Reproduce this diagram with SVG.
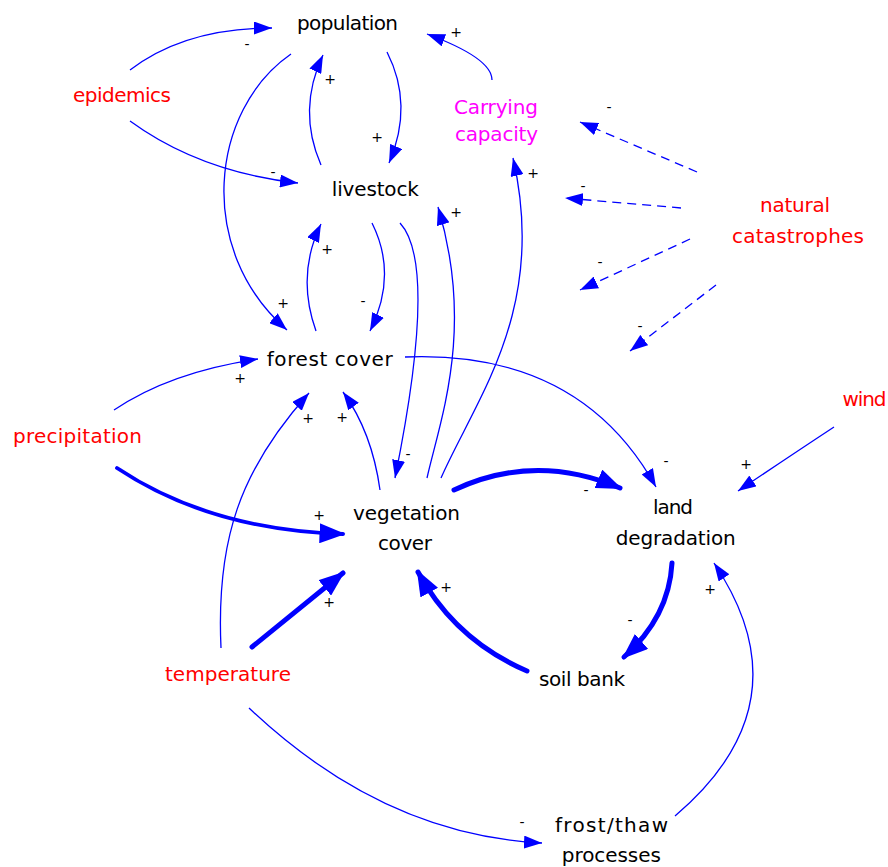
<svg xmlns="http://www.w3.org/2000/svg" width="888" height="867" viewBox="0 0 888 867">
<style>
  .lbl { font-family: "DejaVu Sans", "Liberation Sans", sans-serif; font-size: 20px; text-anchor: middle; }
  .blk { fill: #000000; }
  .red { fill: #ff0000; }
  .mag { fill: #ff00ff; }
  .sgn { font-family: "DejaVu Sans", "Liberation Sans", sans-serif; font-size: 14px; text-anchor: middle; fill: #000000; }
  .thin { fill: none; stroke: #0000ff; stroke-width: 1.3; marker-end: url(#ah); }
  .dash { fill: none; stroke: #0000ff; stroke-width: 1.3; stroke-dasharray: 9,6; marker-end: url(#ah); }
  .thick { fill: none; stroke: #0000ff; stroke-width: 5; stroke-linecap: round; marker-end: url(#ahk); }
</style>
<defs>
  <marker id="ah" markerUnits="userSpaceOnUse" markerWidth="18" markerHeight="13" refX="18" refY="6.5" orient="auto">
    <path d="M0,0 L18,6.5 L0,13 Z" fill="#0000ff"/>
  </marker>
  <marker id="ahk" markerUnits="userSpaceOnUse" markerWidth="26" markerHeight="20" refX="23.5" refY="10" orient="auto">
    <path d="M0,0 L26,10 L0,20 Z" fill="#0000ff"/>
  </marker>
</defs>
<rect width="888" height="867" fill="#ffffff"/>

<g id="connectors">
  <path class="thin" d="M130,70 Q185,28 272,28"/>
  <path class="thin" d="M130,121 Q200,172 298,183"/>
  <path class="thin" d="M291,54 C210,110 195,250 287,330"/>
  <path class="thin" d="M321,165 Q297,110 323,55"/>
  <path class="thin" d="M387,52 Q414,105 389,163"/>
  <path class="thin" d="M492,80 Q492,58 427,34"/>
  <path class="dash" d="M697,172 L580,122"/>
  <path class="dash" d="M681,208 L565,198"/>
  <path class="dash" d="M690,239 L580,290"/>
  <path class="dash" d="M716,285 L630,351"/>
  <path class="thin" d="M441,478 C475,400 548,310 513,158"/>
  <path class="thin" d="M316,331 Q296,275 321,224"/>
  <path class="thin" d="M372,223 Q398,275 370,331"/>
  <path class="thin" d="M400,223 C425,250 425,330 395,478"/>
  <path class="thin" d="M427,478 C440,420 475,330 438,207"/>
  <path class="thin" d="M405,357 Q580,350 656,487"/>
  <path class="thin" d="M834,427 Q790,456 738,491"/>
  <path class="thin" d="M114,410 Q170,372 258,359"/>
  <path class="thin" d="M221,648 C216,540 240,470 309,393"/>
  <path class="thin" d="M380,490 Q372,432 343,392"/>
  <path class="thin" d="M249,708 Q383,835 542,843"/>
  <path class="thin" d="M675,816 Q808,703 714,563"/>
  <path class="thick" style="stroke-width:3.8" d="M117,468 Q210,530 343,534"/>
  <path class="thick" d="M252,647 L343,573"/>
  <path class="thick" d="M527,671 Q455,640 418,572"/>
  <path class="thick" d="M454,490 Q535,452 620,488"/>
  <path class="thick" d="M672,563 Q669,617 624,657"/>
</g>

<g id="polarities">
  <text class="sgn" x="247" y="49">-</text>
  <text class="sgn" x="273" y="177">-</text>
  <text class="sgn" x="283" y="308">+</text>
  <text class="sgn" x="330" y="84">+</text>
  <text class="sgn" x="377" y="142">+</text>
  <text class="sgn" x="456" y="37">+</text>
  <text class="sgn" x="609" y="112">-</text>
  <text class="sgn" x="583" y="191">-</text>
  <text class="sgn" x="600" y="267">-</text>
  <text class="sgn" x="640" y="331">-</text>
  <text class="sgn" x="533" y="178">+</text>
  <text class="sgn" x="456" y="217">+</text>
  <text class="sgn" x="327" y="254">+</text>
  <text class="sgn" x="363" y="306">-</text>
  <text class="sgn" x="240" y="383">+</text>
  <text class="sgn" x="308" y="423">+</text>
  <text class="sgn" x="342" y="422">+</text>
  <text class="sgn" x="408" y="459">-</text>
  <text class="sgn" x="319" y="520">+</text>
  <text class="sgn" x="329" y="607">+</text>
  <text class="sgn" x="446" y="592">+</text>
  <text class="sgn" x="586" y="495">-</text>
  <text class="sgn" x="666" y="466">-</text>
  <text class="sgn" x="746" y="469">+</text>
  <text class="sgn" x="630" y="625">-</text>
  <text class="sgn" x="710" y="594">+</text>
  <text class="sgn" x="522" y="827">-</text>
</g>

<g id="population"><text class="lbl blk" x="347.5" y="30" textLength="101" lengthAdjust="spacing">population</text></g>
<g id="epidemics"><text class="lbl red" x="122" y="102" textLength="98" lengthAdjust="spacing">epidemics</text></g>
<g id="carrying-capacity">
  <text class="lbl mag" x="496" y="114" textLength="84" lengthAdjust="spacing">Carrying</text>
  <text class="lbl mag" x="496.5" y="141" textLength="83" lengthAdjust="spacing">capacity</text>
</g>
<g id="livestock"><text class="lbl blk" x="375.3" y="196" textLength="87" lengthAdjust="spacing">livestock</text></g>
<g id="natural-catastrophes">
  <text class="lbl red" x="795" y="212" textLength="70" lengthAdjust="spacing">natural</text>
  <text class="lbl red" x="798" y="243" textLength="132" lengthAdjust="spacing">catastrophes</text>
</g>
<g id="forest-cover"><text class="lbl blk" x="329.7" y="366" textLength="126" lengthAdjust="spacing">forest cover</text></g>
<g id="wind"><text class="lbl red" x="864.5" y="406" textLength="44" lengthAdjust="spacing">wind</text></g>
<g id="precipitation"><text class="lbl red" x="77.5" y="443" textLength="129" lengthAdjust="spacing">precipitation</text></g>
<g id="vegetation-cover">
  <text class="lbl blk" x="406.5" y="520" textLength="107" lengthAdjust="spacing">vegetation</text>
  <text class="lbl blk" x="405" y="550" textLength="54" lengthAdjust="spacing">cover</text>
</g>
<g id="land-degradation">
  <text class="lbl blk" x="673" y="514" textLength="40" lengthAdjust="spacing">land</text>
  <text class="lbl blk" x="675.7" y="545" textLength="120" lengthAdjust="spacing">degradation</text>
</g>
<g id="soil-bank"><text class="lbl blk" x="582" y="686" textLength="86" lengthAdjust="spacing">soil bank</text></g>
<g id="temperature"><text class="lbl red" x="228" y="681" textLength="126" lengthAdjust="spacing">temperature</text></g>
<g id="frost-thaw">
  <text class="lbl blk" x="611.5" y="832" textLength="113" lengthAdjust="spacing">frost/thaw</text>
  <text class="lbl blk" x="611.3" y="862" textLength="99" lengthAdjust="spacing">processes</text>
</g>
</svg>
